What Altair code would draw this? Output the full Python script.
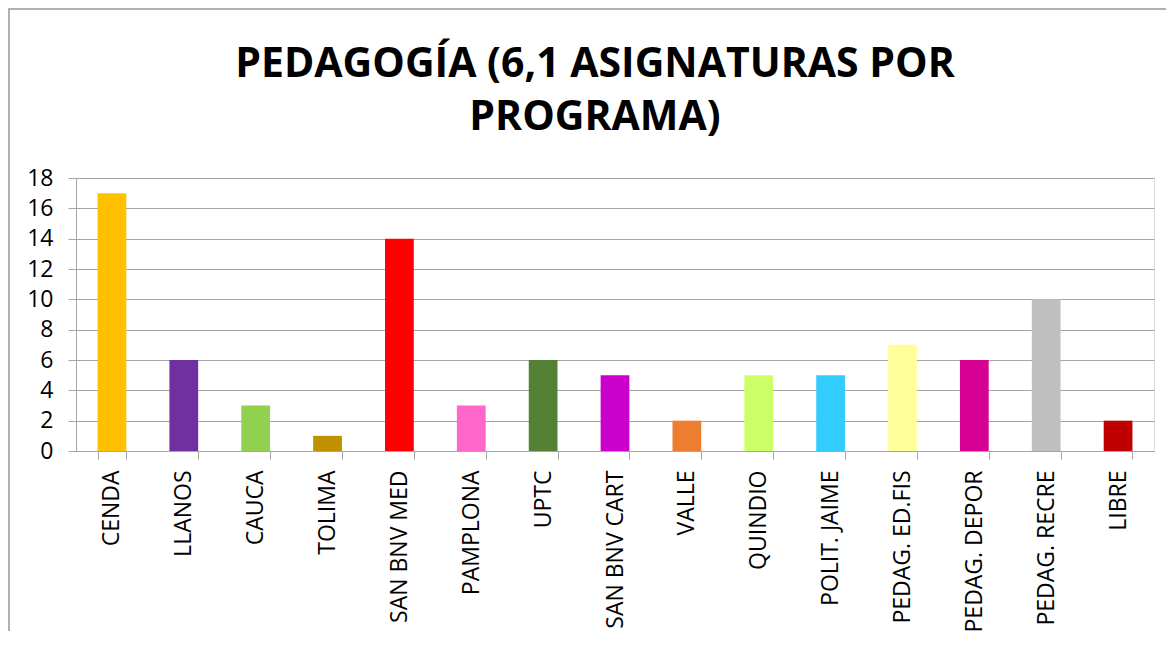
import altair as alt
import pandas as pd

categories = ["CENDA", "LLANOS", "CAUCA", "TOLIMA", "SAN BNV MED", "PAMPLONA", "UPTC",
              "SAN BNV CART", "VALLE", "QUINDIO", "POLIT. JAIME", "PEDAG. ED.FIS",
              "PEDAG. DEPOR", "PEDAG. RECRE", "LIBRE"]
values = [17, 6, 3, 1, 14, 3, 6, 5, 2, 5, 5, 7, 6, 10, 2]
colors = ["#FFC000", "#7030A0", "#92D050", "#BF9000", "#FF0000", "#FF66CC", "#548235",
          "#CC00CC", "#ED7D31", "#CCFF66", "#33CCFF", "#FFFF99", "#D60093", "#BFBFBF", "#C00000"]
y_ticks = [0, 2, 4, 6, 8, 10, 12, 14, 16, 18]
title_lines = ["PEDAGOGÍA (6,1 ASIGNATURAS POR", "PROGRAMA)"]

df = pd.DataFrame({"programa": categories, "valor": values, "color": colors})

W, H = 1078, 273
LABEL_FONT = "Open Sans"
GRAY = "#a6a6a6"

bars = alt.Chart(df).mark_bar().encode(
    x=alt.X("programa:N", sort=categories,
            scale=alt.Scale(paddingInner=0.6, paddingOuter=0.3),
            axis=alt.Axis(title=None, labelAngle=270, labelAlign="right", labelBaseline="middle",
                          labelFontSize=23, labelFont=LABEL_FONT, labelColor="#000000",
                          labelPadding=11, tickBand="extent", ticks=True, tickSize=8,
                          tickColor=GRAY, domainColor=GRAY, grid=False)),
    y=alt.Y("valor:Q", scale=alt.Scale(domain=[0, 18], nice=False),
            axis=alt.Axis(title=None, values=y_ticks, labelFontSize=23, labelFont=LABEL_FONT,
                          labelColor="#000000", labelPadding=15, tickSize=8, tickColor=GRAY,
                          domainColor=GRAY, gridColor=GRAY, gridWidth=1)),
    color=alt.Color("color:N", scale=None),
)

border = alt.Chart(df).mark_rect(fill=None, stroke="#b0b0b0", strokeWidth=2, clip=False).encode(
    x=alt.value(-67), x2=alt.value(W + 40), y=alt.value(-169), y2=alt.value(H + 200)
)

chart = alt.layer(border, bars).properties(
    width=W, height=H,
    title=alt.TitleParams(title_lines, font="Open Sans",
                          fontSize=41, fontWeight="bold", color="#000000",
                          lineHeight=53, anchor="middle", dx=-20, offset=-131),
    padding={"left": 68, "top": 170, "right": 12, "bottom": 180},
    autosize=alt.AutoSizeParams(type="none"),
).configure_view(stroke=None).configure(background="#ffffff")

chart.save("out.html", embed_options={"renderer": "svg", "actions": False})
